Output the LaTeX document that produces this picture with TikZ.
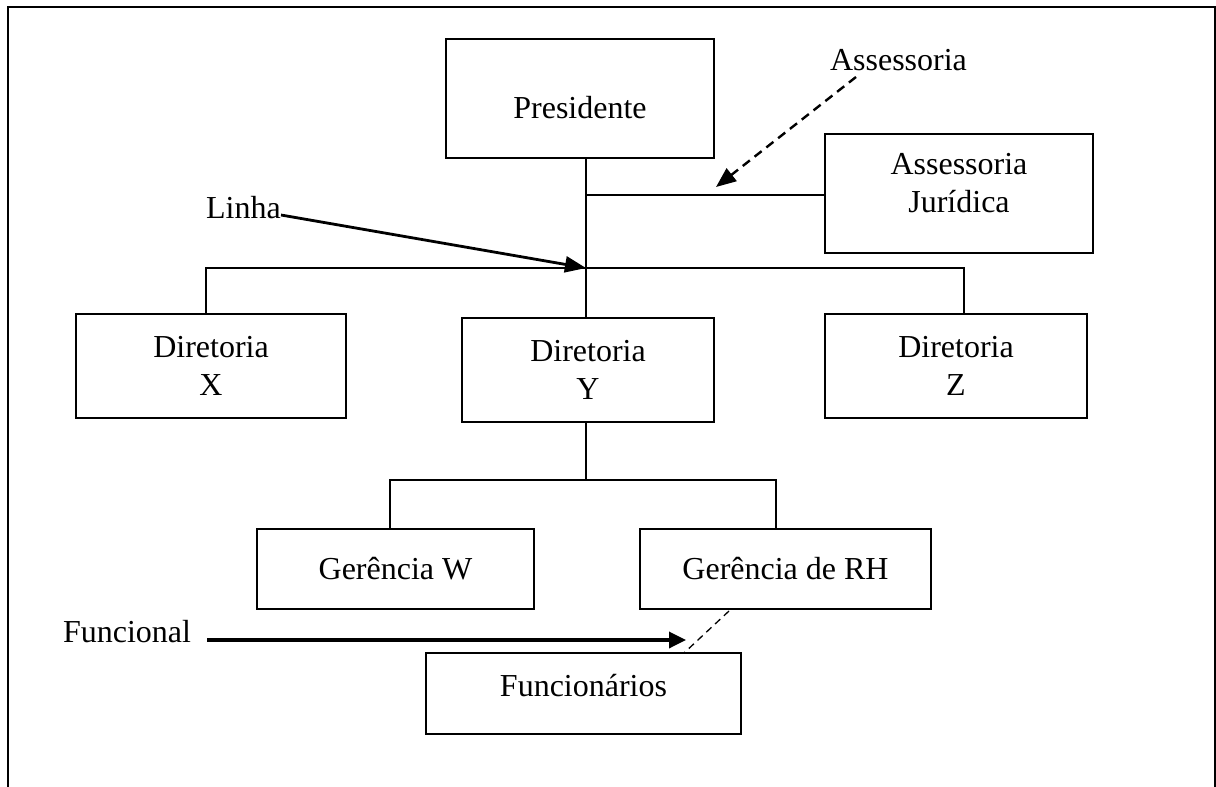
\documentclass[tikz,border=0pt]{standalone}
\usepackage{fontspec}
\setmainfont{Liberation Serif}
\usetikzlibrary{arrows.meta,calc}
\begin{document}
\begin{tikzpicture}[x=1pt,y=-1pt,
  every node/.style={font=\fontsize{32}{38}\selectfont},
  box/.style={draw,line width=1.4pt,rectangle,inner sep=0pt,align=center},
  boxtext/.style={label={[inner sep=0pt,align=center,yshift=#1]center:}},
  lbl/.style={inner sep=0pt},
  conn/.style={line width=1.6pt},
  bigarrow/.style={line width=2.8pt,-{Triangle[length=21pt,width=16pt]}},
  dasharrow/.style={line width=2.4pt,dash pattern=on 9pt off 6pt,-{Triangle[length=20pt,width=16pt]}},
  thindash/.style={line width=1.3pt,dash pattern=on 7pt off 5pt}]
\useasboundingbox (0,0) rectangle (1216,787);
% frame
\draw[line width=2.4pt] (8,787) -- (8,7) -- (1215,7) -- (1215,787);
% boxes
\node[box,minimum width=268pt,minimum height=119pt,
  label={[inner sep=0pt,yshift=-9pt]center:Presidente}] (pres) at (580,98.5) {};
\node[box,minimum width=268pt,minimum height=119pt,
  label={[inner sep=0pt,align=center,yshift=10pt]center:Assessoria\\Jurídica}] (aj) at (959,193.5) {};
\node[box,minimum width=270pt,minimum height=104pt] (dx) at (211,366) {Diretoria\\X};
\node[box,minimum width=252pt,minimum height=104pt] (dy) at (588,370) {Diretoria\\Y};
\node[box,minimum width=262pt,minimum height=104pt] (dz) at (956,366) {Diretoria\\Z};
\node[box,minimum width=277pt,minimum height=80pt] (gw) at (395.5,569) {Gerência W};
\node[box,minimum width=291pt,minimum height=80pt] (grh) at (785.5,569) {Gerência de RH};
\node[box,minimum width=315pt,minimum height=81pt,
  label={[inner sep=0pt,yshift=8pt]center:Funcionários}] (func) at (583.5,693.5) {};
% labels
\node[lbl,anchor=base] (linha) at (243.5,218) {Linha};
\node[lbl,anchor=base] (ass) at (898.5,70) {Assessoria};
\node[lbl,anchor=base] (funcional) at (127,642) {Funcional};
% junctions and free ends
\coordinate (j1) at (586,195);
\coordinate (j2) at (586,268);
\coordinate (j3) at (586,480);
\coordinate (atip) at (716,187);
\coordinate (astart) at (856,77);
\coordinate (fstart) at (207,640);
\coordinate (ftip) at (686,640);
\coordinate (d1) at (729,611);
\coordinate (d2) at (684,653);
% trunk
\draw[conn] (j1 |- pres.south) -- (j1 |- dy.north);
\draw[conn] (j1) -- (j1 -| aj.west);
\draw[conn] ([xshift=-5pt]dx.north) |- (j2) -| ([xshift=8pt]dz.north);
\draw[conn] (j3 |- dy.south) -- (j3);
\draw[conn] ([xshift=-5.5pt]gw.north) |- (j3) -| ([xshift=-9.5pt]grh.north);
% annotation arrows
\draw[bigarrow] ([yshift=3pt]linha.base east) -- (j2);
\draw[dasharrow] (astart) -- (atip);
\draw[line width=3.4pt,-{Triangle[length=17pt,width=16pt]}] (fstart) -- (ftip);
\draw[thindash] (d1) -- (d2);
\end{tikzpicture}
\end{document}
